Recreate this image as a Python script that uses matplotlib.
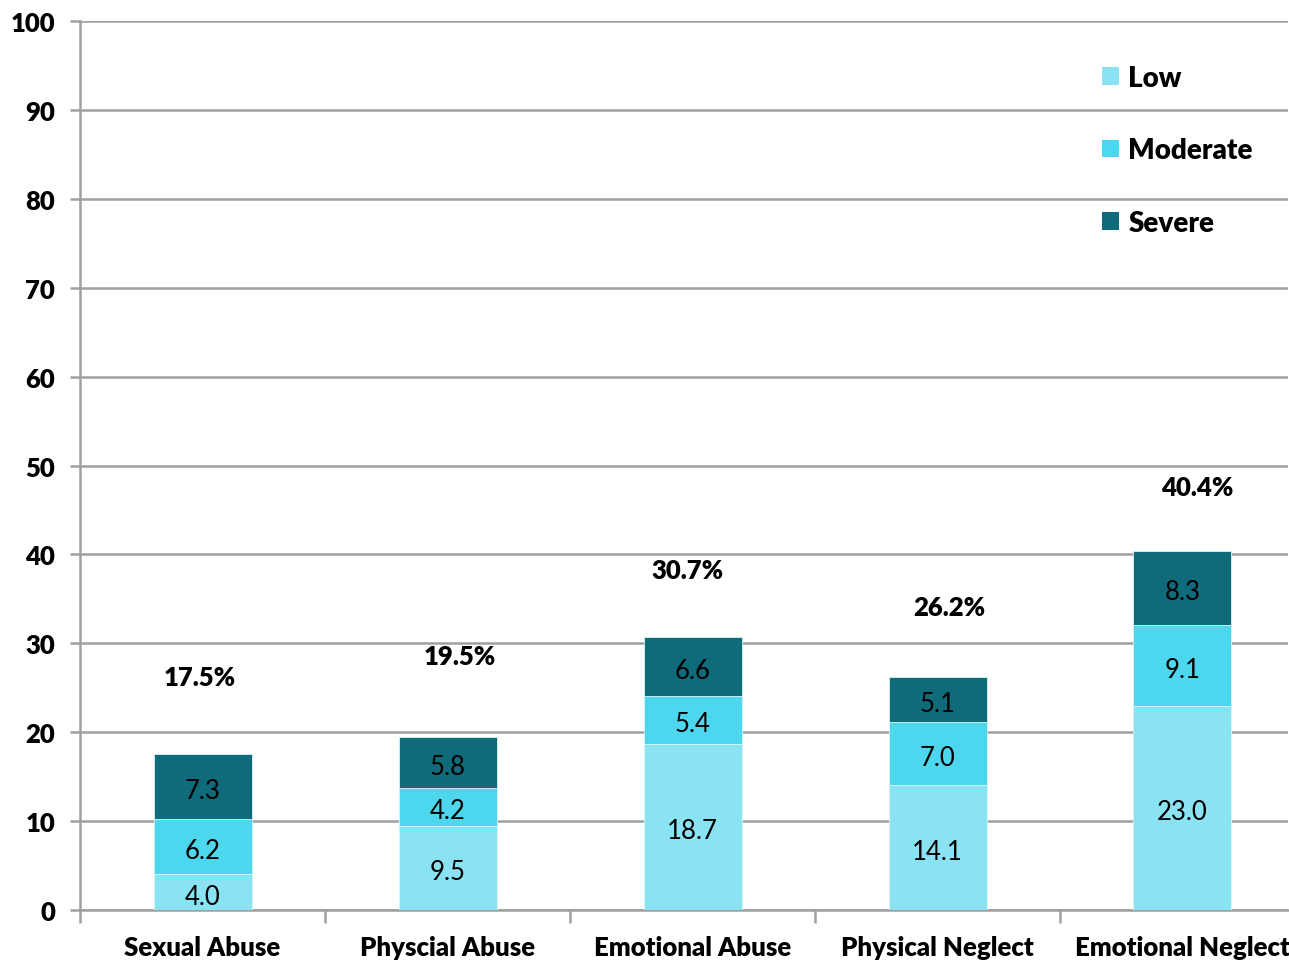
import matplotlib.pyplot as plt
import numpy as np
from matplotlib.patches import Patch

categories = ["Sexual Abuse", "Physcial Abuse", "Emotional Abuse", "Physical Neglect", "Emotional Neglect"]
low = [4.0, 9.5, 18.7, 14.1, 23.0]
moderate = [6.2, 4.2, 5.4, 7.0, 9.1]
severe = [7.3, 5.8, 6.6, 5.1, 8.3]
series_names = ["Low", "Moderate", "Severe"]

colors = ["#89E3F3", "#4DD7EE", "#0F6A7A"]
grid_color = "#A0A0A0"

plt.rcParams.update({
    'font.family': ['Lato', 'DejaVu Sans'],
})
BOLD = 800

fig = plt.figure(figsize=(12.89, 9.62), dpi=100)
ax = fig.add_axes([0.0621, 0.053, 0.937, 0.924])

x = np.arange(len(categories))
bar_width = 0.40
low_a = np.array(low)
mod_a = np.array(moderate)
sev_a = np.array(severe)
totals = low_a + mod_a + sev_a

stacks = [low_a, mod_a, sev_a]
bottom = np.zeros(len(categories))
for vals, name, col in zip(stacks, series_names, colors):
    ax.bar(x, vals, bar_width, bottom=bottom, color=col, label=name, zorder=3,
           edgecolor="#D8F4F9", linewidth=0.6)
    for xi, b, v in zip(x, bottom, vals):
        ax.text(xi, b + v / 2 - 0.45, f"{v:.1f}", ha='center', va='center', fontsize=18.5,
                color='black', zorder=4)
    bottom = bottom + vals

# total labels sit a little above each stack
dx = [-0.01, 0.05, -0.02, 0.05, 0.06]
dy = [8.7, 9.1, 7.6, 7.9, 7.2]
for xi, t, ox, oy in zip(x, totals, dx, dy):
    ax.text(xi + ox, t + oy, f"{t:.1f}%", ha='center', va='center', fontsize=18.5,
            fontweight=BOLD, zorder=4)

ax.set_yticks(np.arange(0, 101, 10))
ax.set_yticklabels([str(v) for v in range(0, 101, 10)], fontsize=18.5, fontweight=BOLD)
ax.set_xticks(x)
ax.set_xticklabels(categories, fontsize=18.5, fontweight=BOLD)
ax.set_xticks(np.arange(-0.5, 4.6, 1.0), minor=True)
ax.set_xlim(-0.5, 4.43)
ax.set_ylim(0, 100)
ax.tick_params(axis='x', which='major', length=0, pad=18)
ax.tick_params(axis='x', which='minor', length=9, width=1.8, color=grid_color, direction='out')
ax.tick_params(axis='y', length=7, width=1.8, color=grid_color, direction='out', pad=11)

ax.grid(axis='y', color=grid_color, linewidth=1.8, zorder=0)
ax.set_axisbelow(True)
for side in ['top', 'right']:
    ax.spines[side].set_visible(False)
for side in ['left', 'bottom']:
    ax.spines[side].set_color(grid_color)
    ax.spines[side].set_linewidth(1.8)

handles = [Patch(facecolor=c, edgecolor='none') for c in colors]
ax.legend(handles, series_names, loc='upper left', bbox_to_anchor=(0.846, 0.951),
          frameon=False, prop={'weight': BOLD, 'size': 20},
          handlelength=0.6, handleheight=0.6, handletextpad=0.35, labelspacing=1.68,
          borderpad=0, borderaxespad=0)

fig.savefig("out.png", dpi=100)
